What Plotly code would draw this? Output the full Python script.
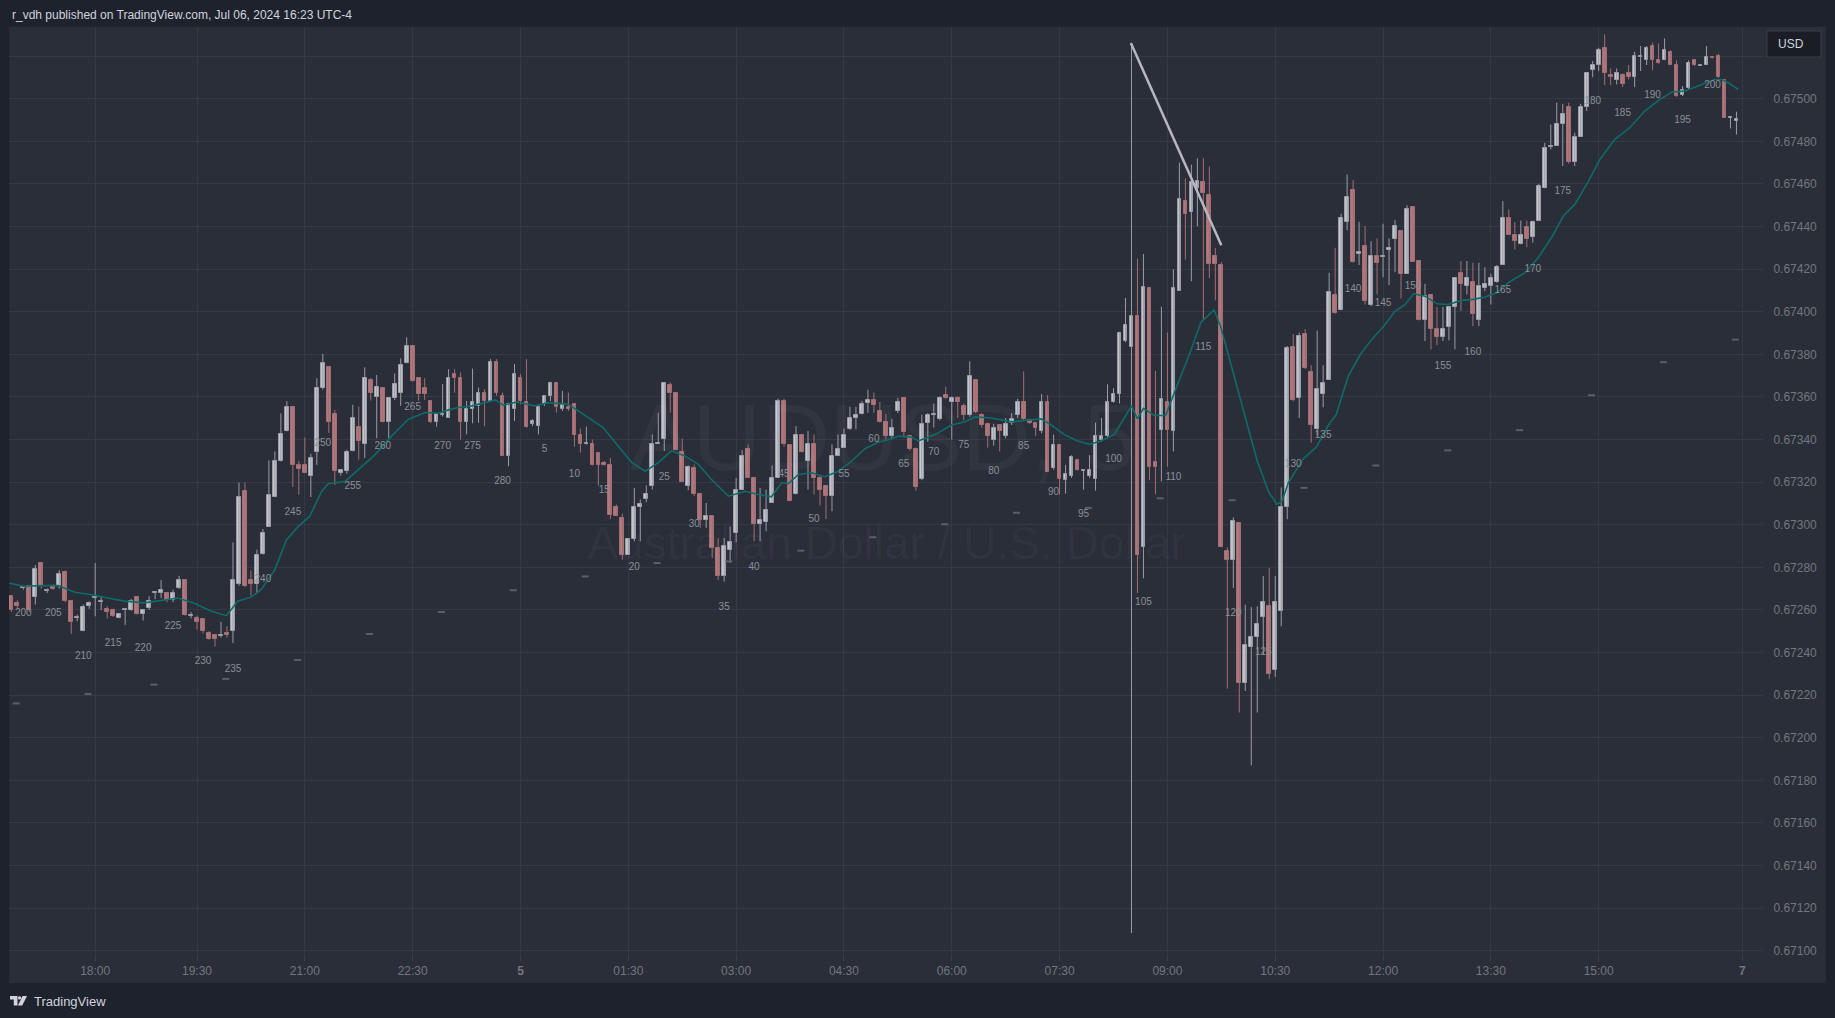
import plotly.graph_objects as go

# ---------------- data (AUDUSD 5-minute bars) ----------------
bar_index = list(range(-14, 275))

bar_open = [
 0.672664, 0.672633, 0.672703, 0.672710, 0.672660, 0.672820, 0.672690, 0.672710, 0.672710, 0.672780,
 0.672644, 0.672563, 0.672500, 0.672620, 0.672660, 0.672640, 0.672602, 0.672600, 0.672564, 0.672600,
 0.672600, 0.672660, 0.672580, 0.672608, 0.672680, 0.672680, 0.672680, 0.672645, 0.672703, 0.672740,
 0.672573, 0.672560, 0.672555, 0.672492, 0.672484, 0.672477, 0.672492, 0.672500, 0.672723, 0.673160,
 0.672739, 0.672723, 0.672864, 0.672989, 0.673130, 0.673300, 0.673440, 0.673552, 0.673281, 0.673280,
 0.673230, 0.673339, 0.673640, 0.673740, 0.673519, 0.673245, 0.673250, 0.673348, 0.673458, 0.673380,
 0.673680, 0.673598, 0.673640, 0.673480, 0.673597, 0.673617, 0.673758, 0.673840, 0.673688, 0.673640,
 0.673580, 0.673480, 0.673516, 0.673503, 0.673707, 0.673691, 0.673482, 0.673542, 0.673558, 0.673620,
 0.673581, 0.673762, 0.673602, 0.673322, 0.673542, 0.673691, 0.673576, 0.673474, 0.673463, 0.673565,
 0.673602, 0.673663, 0.673542, 0.673554, 0.673565, 0.673423, 0.673380, 0.673380, 0.673335, 0.673290,
 0.673281, 0.673084, 0.673032, 0.672859, 0.672933, 0.673082, 0.673121, 0.673181, 0.673380, 0.673404,
 0.673655, 0.673620, 0.673343, 0.673184, 0.673267, 0.673142, 0.673024, 0.673043, 0.672890, 0.672760,
 0.672883, 0.672961, 0.673165, 0.673354, 0.673220, 0.673005, 0.673011, 0.673102, 0.673220, 0.673581,
 0.673372, 0.673142, 0.673419, 0.673299, 0.673380, 0.673220, 0.673181, 0.673137, 0.673322, 0.673361,
 0.673448, 0.673503, 0.673522, 0.673573, 0.673584, 0.673534, 0.673482, 0.673416, 0.673535, 0.673596,
 0.673416, 0.673355, 0.673213, 0.673479, 0.673517, 0.673497, 0.673607, 0.673578, 0.673596, 0.673558,
 0.673517, 0.673681, 0.673517, 0.673474, 0.673400, 0.673468, 0.673416, 0.673479, 0.673517, 0.673578,
 0.673490, 0.673479, 0.673438, 0.673578, 0.673265, 0.673376, 0.673209, 0.673227, 0.673306, 0.673254,
 0.673227, 0.673213, 0.673396, 0.673416, 0.673578, 0.673614, 0.673861, 0.673834, 0.673978, 0.672894,
 0.674109, 0.673294, 0.673445, 0.673578, 0.673438, 0.674098, 0.674518, 0.674469, 0.674581, 0.674608,
 0.674548, 0.674260, 0.674221, 0.672878, 0.672833, 0.673007, 0.672257, 0.672426, 0.672471, 0.672568,
 0.672617, 0.672320, 0.672595, 0.673081, 0.673834, 0.673596, 0.673895, 0.673715, 0.673450, 0.673614,
 0.673679, 0.674078, 0.674006, 0.674421, 0.674571, 0.674269, 0.674308, 0.674031, 0.674261, 0.674261,
 0.674288, 0.674339, 0.674378, 0.674178, 0.674491, 0.674238, 0.673959, 0.674078, 0.673917, 0.673881,
 0.673928, 0.674022, 0.674180, 0.674120, 0.674139, 0.673961, 0.674112, 0.674120, 0.674141, 0.674219,
 0.674438, 0.674360, 0.674319, 0.674400, 0.674350, 0.674428, 0.674579, 0.674777, 0.674777, 0.674879,
 0.674961, 0.674704, 0.674820, 0.674961, 0.675137, 0.675158, 0.675236, 0.675111, 0.675087, 0.675111,
 0.675119, 0.675101, 0.675200, 0.675181, 0.675247, 0.675181, 0.675181, 0.675220, 0.675158, 0.675017,
 0.675051, 0.675180, 0.675158, 0.675158, 0.675197, 0.675200, 0.675087, 0.674910, 0.674900,
]

bar_high = [
 0.672670, 0.672645, 0.672710, 0.672715, 0.672810, 0.672823, 0.672700, 0.672720, 0.672786, 0.672785,
 0.672646, 0.672578, 0.672625, 0.672640, 0.672820, 0.672664, 0.672617, 0.672605, 0.672586, 0.672605,
 0.672652, 0.672665, 0.672602, 0.672664, 0.672680, 0.672740, 0.672680, 0.672695, 0.672760, 0.672745,
 0.672590, 0.672573, 0.672558, 0.672500, 0.672484, 0.672544, 0.672523, 0.672917, 0.673198, 0.673198,
 0.672784, 0.672883, 0.672980, 0.673302, 0.673344, 0.673523, 0.673580, 0.673552, 0.673300, 0.673410,
 0.673333, 0.673688, 0.673802, 0.673740, 0.673539, 0.673258, 0.673352, 0.673563, 0.673555, 0.673739,
 0.673688, 0.673703, 0.673640, 0.673597, 0.673710, 0.673781, 0.673880, 0.673840, 0.673688, 0.673688,
 0.673580, 0.673519, 0.673660, 0.673730, 0.673730, 0.673715, 0.673581, 0.673733, 0.673644, 0.673636,
 0.673777, 0.673777, 0.673620, 0.673573, 0.673754, 0.673707, 0.673777, 0.673495, 0.673565, 0.673605,
 0.673671, 0.673663, 0.673628, 0.673620, 0.673565, 0.673451, 0.673460, 0.673400, 0.673338, 0.673299,
 0.673314, 0.673095, 0.673052, 0.672936, 0.673173, 0.673118, 0.673184, 0.673424, 0.673526, 0.673663,
 0.673668, 0.673620, 0.673404, 0.673278, 0.673283, 0.673150, 0.673102, 0.673043, 0.672938, 0.672938,
 0.672992, 0.673220, 0.673350, 0.673377, 0.673220, 0.673173, 0.673165, 0.673278, 0.673592, 0.673592,
 0.673372, 0.673463, 0.673424, 0.673440, 0.673424, 0.673228, 0.673184, 0.673377, 0.673424, 0.673451,
 0.673554, 0.673554, 0.673581, 0.673633, 0.673620, 0.673576, 0.673520, 0.673497, 0.673596, 0.673596,
 0.673423, 0.673362, 0.673517, 0.673524, 0.673569, 0.673603, 0.673648, 0.673603, 0.673603, 0.673569,
 0.673767, 0.673681, 0.673524, 0.673479, 0.673474, 0.673472, 0.673501, 0.673524, 0.673591, 0.673720,
 0.673497, 0.673483, 0.673614, 0.673609, 0.673423, 0.673376, 0.673281, 0.673326, 0.673310, 0.673258,
 0.673326, 0.673479, 0.673501, 0.673659, 0.673641, 0.673906, 0.674064, 0.675261, 0.674248, 0.674271,
 0.674109, 0.673722, 0.674023, 0.673902, 0.674199, 0.674700, 0.674626, 0.674690, 0.674720, 0.674720,
 0.674682, 0.674300, 0.674233, 0.672894, 0.673034, 0.673007, 0.672624, 0.672613, 0.672617, 0.672759,
 0.672797, 0.672759, 0.673175, 0.673839, 0.673895, 0.673902, 0.673918, 0.673749, 0.673911, 0.673749,
 0.674183, 0.674300, 0.674460, 0.674644, 0.674618, 0.674422, 0.674402, 0.674331, 0.674344, 0.674413,
 0.674344, 0.674430, 0.674378, 0.674500, 0.674491, 0.674238, 0.674131, 0.674078, 0.674022, 0.674022,
 0.674022, 0.674156, 0.674238, 0.674238, 0.674230, 0.674230, 0.674209, 0.674178, 0.674219, 0.674519,
 0.674480, 0.674421, 0.674428, 0.674428, 0.674428, 0.674601, 0.674793, 0.674879, 0.674981, 0.674976,
 0.674981, 0.674840, 0.674976, 0.675119, 0.675177, 0.675239, 0.675302, 0.675142, 0.675142, 0.675119,
 0.675158, 0.675220, 0.675247, 0.675247, 0.675263, 0.675259, 0.675283, 0.675227, 0.675180, 0.675059,
 0.675180, 0.675180, 0.675160, 0.675247, 0.675197, 0.675211, 0.675087, 0.674910, 0.674939,
]

bar_low = [
 0.672590, 0.672605, 0.672695, 0.672590, 0.672625, 0.672700, 0.672680, 0.672695, 0.672700, 0.672636,
 0.672488, 0.672547, 0.672500, 0.672605, 0.672570, 0.672600, 0.672558, 0.672567, 0.672561, 0.672530,
 0.672595, 0.672578, 0.672550, 0.672600, 0.672650, 0.672656, 0.672636, 0.672636, 0.672698, 0.672573,
 0.672560, 0.672508, 0.672490, 0.672460, 0.672427, 0.672470, 0.672470, 0.672445, 0.672713, 0.672707,
 0.672667, 0.672680, 0.672860, 0.672989, 0.673130, 0.673297, 0.673438, 0.673177, 0.673140, 0.673242,
 0.673130, 0.673281, 0.673634, 0.673430, 0.673186, 0.673230, 0.673240, 0.673344, 0.673305, 0.673313,
 0.673583, 0.673406, 0.673480, 0.673406, 0.673586, 0.673558, 0.673758, 0.673672, 0.673583, 0.673586,
 0.673477, 0.673460, 0.673508, 0.673503, 0.673620, 0.673400, 0.673424, 0.673476, 0.673479, 0.673463,
 0.673581, 0.673605, 0.673322, 0.673275, 0.673487, 0.673565, 0.673456, 0.673463, 0.673424, 0.673558,
 0.673581, 0.673526, 0.673534, 0.673534, 0.673366, 0.673338, 0.673377, 0.673278, 0.673184, 0.673278,
 0.673027, 0.673040, 0.672835, 0.672859, 0.672922, 0.672922, 0.673105, 0.673165, 0.673380, 0.673346,
 0.673526, 0.673350, 0.673200, 0.673162, 0.673134, 0.672985, 0.672985, 0.672843, 0.672741, 0.672733,
 0.672820, 0.672917, 0.673165, 0.673220, 0.672922, 0.672922, 0.672969, 0.673102, 0.673220, 0.673366,
 0.673110, 0.673142, 0.673338, 0.673165, 0.673142, 0.673090, 0.673027, 0.673063, 0.673322, 0.673361,
 0.673445, 0.673448, 0.673518, 0.673526, 0.673526, 0.673479, 0.673400, 0.673407, 0.673524, 0.673411,
 0.673348, 0.673160, 0.673209, 0.673389, 0.673456, 0.673490, 0.673591, 0.673400, 0.673501, 0.673490,
 0.673506, 0.673524, 0.673456, 0.673362, 0.673371, 0.673344, 0.673405, 0.673468, 0.673501, 0.673490,
 0.673474, 0.673416, 0.673429, 0.673249, 0.673258, 0.673142, 0.673146, 0.673220, 0.673254, 0.673164,
 0.673220, 0.673160, 0.673389, 0.673411, 0.673573, 0.673569, 0.673857, 0.671083, 0.672680, 0.672748,
 0.673209, 0.673142, 0.673204, 0.673272, 0.673344, 0.674098, 0.674244, 0.674143, 0.674401, 0.673963,
 0.674158, 0.674053, 0.672894, 0.672230, 0.672703, 0.672118, 0.672219, 0.671870, 0.672118, 0.672388,
 0.672275, 0.672286, 0.672523, 0.673025, 0.673580, 0.673501, 0.673731, 0.673384, 0.673416, 0.673551,
 0.673679, 0.673990, 0.674006, 0.674382, 0.674230, 0.674219, 0.674034, 0.674026, 0.674081, 0.674162,
 0.674125, 0.674186, 0.674062, 0.674178, 0.674234, 0.673959, 0.673862, 0.673823, 0.673843, 0.673862,
 0.673865, 0.673823, 0.674003, 0.674081, 0.673932, 0.673932, 0.674097, 0.674034, 0.674136, 0.674219,
 0.674360, 0.674292, 0.674316, 0.674303, 0.674324, 0.674428, 0.674579, 0.674762, 0.674777, 0.674684,
 0.674695, 0.674684, 0.674820, 0.674942, 0.675101, 0.675130, 0.675064, 0.675064, 0.675067, 0.675054,
 0.675090, 0.675054, 0.675130, 0.675158, 0.675133, 0.675164, 0.675181, 0.675158, 0.675009, 0.675012,
 0.675043, 0.675153, 0.675156, 0.675158, 0.675189, 0.675098, 0.674910, 0.674860, 0.674832,
]

bar_close = [
 0.672598, 0.672620, 0.672703, 0.672600, 0.672790, 0.672710, 0.672690, 0.672700, 0.672770, 0.672640,
 0.672542, 0.672563, 0.672614, 0.672634, 0.672660, 0.672640, 0.672590, 0.672570, 0.672583, 0.672600,
 0.672644, 0.672581, 0.672600, 0.672644, 0.672680, 0.672693, 0.672645, 0.672680, 0.672742, 0.672578,
 0.672573, 0.672542, 0.672500, 0.672464, 0.672464, 0.672484, 0.672483, 0.672739, 0.673130, 0.672713,
 0.672723, 0.672860, 0.672961, 0.673139, 0.673297, 0.673427, 0.673552, 0.673281, 0.673260, 0.673242,
 0.673313, 0.673640, 0.673758, 0.673480, 0.673250, 0.673255, 0.673340, 0.673500, 0.673391, 0.673688,
 0.673617, 0.673648, 0.673480, 0.673597, 0.673660, 0.673750, 0.673840, 0.673675, 0.673614, 0.673614,
 0.673480, 0.673519, 0.673516, 0.673691, 0.673691, 0.673482, 0.673542, 0.673576, 0.673620, 0.673581,
 0.673762, 0.673620, 0.673322, 0.673565, 0.673707, 0.673581, 0.673460, 0.673485, 0.673554, 0.673602,
 0.673663, 0.673554, 0.673565, 0.673542, 0.673419, 0.673377, 0.673380, 0.673278, 0.673278, 0.673278,
 0.673047, 0.673040, 0.672859, 0.672933, 0.673084, 0.673095, 0.673142, 0.673380, 0.673380, 0.673663,
 0.673620, 0.673350, 0.673200, 0.673272, 0.673142, 0.673024, 0.673043, 0.672890, 0.672760, 0.672898,
 0.672917, 0.673162, 0.673322, 0.673220, 0.673005, 0.673024, 0.673068, 0.673220, 0.673581, 0.673377,
 0.673110, 0.673419, 0.673341, 0.673380, 0.673220, 0.673162, 0.673137, 0.673322, 0.673354, 0.673423,
 0.673503, 0.673514, 0.673565, 0.673584, 0.673562, 0.673484, 0.673418, 0.673456, 0.673578, 0.673434,
 0.673355, 0.673175, 0.673474, 0.673517, 0.673517, 0.673596, 0.673596, 0.673596, 0.673578, 0.673517,
 0.673699, 0.673531, 0.673468, 0.673416, 0.673456, 0.673438, 0.673474, 0.673497, 0.673578, 0.673497,
 0.673479, 0.673456, 0.673578, 0.673249, 0.673376, 0.673213, 0.673238, 0.673317, 0.673258, 0.673254,
 0.673258, 0.673416, 0.673416, 0.673578, 0.673614, 0.673900, 0.673938, 0.673978, 0.672856, 0.674116,
 0.673272, 0.673272, 0.673589, 0.673445, 0.674109, 0.674529, 0.674458, 0.674608, 0.674615, 0.674559,
 0.674226, 0.674226, 0.672894, 0.672833, 0.673018, 0.672257, 0.672433, 0.672473, 0.672534, 0.672635,
 0.672298, 0.672635, 0.673081, 0.673828, 0.673587, 0.673888, 0.673738, 0.673468, 0.673638, 0.673663,
 0.674092, 0.673995, 0.674438, 0.674538, 0.674234, 0.674280, 0.674050, 0.674261, 0.674228, 0.674261,
 0.674300, 0.674402, 0.674178, 0.674483, 0.674234, 0.673959, 0.674073, 0.673917, 0.673881, 0.673917,
 0.674022, 0.674156, 0.674128, 0.674156, 0.673987, 0.674120, 0.674128, 0.674159, 0.674209, 0.674438,
 0.674360, 0.674331, 0.674360, 0.674339, 0.674421, 0.674590, 0.674767, 0.674777, 0.674879, 0.674926,
 0.674704, 0.674820, 0.674961, 0.675119, 0.675158, 0.675228, 0.675119, 0.675101, 0.675119, 0.675067,
 0.675101, 0.675200, 0.675200, 0.675236, 0.675181, 0.675169, 0.675227, 0.675158, 0.675012, 0.675039,
 0.675169, 0.675158, 0.675158, 0.675197, 0.675189, 0.675101, 0.674910, 0.674910, 0.674900,
]

# moving average line (teal), read at sample points
ema_x = [-14.5, -12, -9, -6.2, -3.4, -0.1, 2.1, 4.9, 8.2, 11.0,
         13.8, 16.6, 19.4, 21.9, 23.8, 26.1, 27.7, 30.0, 31.9, 33.9,
         35.8, 37.8, 38.9, 41.7, 43.9, 46.7, 49.5, 52.3, 55.1, 57.3,
         59.0, 60.6, 62.9, 66.8, 68.1, 70.4, 73.4, 75.7, 79.0, 81.8,
         84.8, 87.3, 89.6, 91.8, 94.0, 96.2, 98.5, 100.7, 102.9, 105.7,
         108.5, 110.7, 112.9, 114.6, 115.7, 117.4, 119.6, 121.8, 124.1, 126.3,
         128.5, 130.8, 132.7, 134.1, 136.3, 137.4, 140.2, 143.0, 145.2, 146.9,
         149.6, 153.0, 155.7, 157.9, 159.6, 161.8, 164.0, 166.0, 167.9, 170.1,
         171.8, 173.0, 174.0, 175.0, 176.8, 178.7, 180.7, 182.6, 184.6, 186.8,
         187.9, 189.8, 191.8, 194.0, 195.9, 197.3, 198.1, 199.2, 201.7, 203.9,
         205.9, 207.2, 209.2, 211.2, 213.1, 215.1, 217.0, 218.7, 220.1, 222.0,
         224.0, 225.9, 228.1, 230.1, 232.0, 234.0, 235.9, 238.7, 240.9, 243.1,
         245.1, 247.1, 249.3, 251.2, 253.7, 256.3, 258.7, 261.0, 263.2, 265.4,
         267.6, 270.4, 271.5, 272.6, 274.3]
ema_y = [0.672727, 0.672711, 0.672714, 0.672714, 0.672683, 0.672669, 0.672656, 0.672641, 0.672633, 0.672645,
         0.672656, 0.672630, 0.672594, 0.672573, 0.672641, 0.672661, 0.672695, 0.672789, 0.672927, 0.672992,
         0.673039, 0.673156, 0.673192, 0.673203, 0.673258, 0.673328, 0.673417, 0.673495, 0.673527, 0.673523,
         0.673539, 0.673550, 0.673558, 0.673586, 0.673561, 0.673576, 0.673558, 0.673573, 0.673565, 0.673511,
         0.673456, 0.673369, 0.673291, 0.673251, 0.673291, 0.673346, 0.673322, 0.673283, 0.673212, 0.673134,
         0.673157, 0.673142, 0.673131, 0.673197, 0.673193, 0.673236, 0.673244, 0.673225, 0.673251, 0.673299,
         0.673357, 0.673388, 0.673401, 0.673416, 0.673411, 0.673393, 0.673423, 0.673468, 0.673483, 0.673506,
         0.673501, 0.673483, 0.673490, 0.673497, 0.673468, 0.673423, 0.673393, 0.673378, 0.673393, 0.673423,
         0.673501, 0.673558, 0.673497, 0.673546, 0.673513, 0.673513, 0.673659, 0.673794, 0.673951, 0.674008,
         0.673929, 0.673738, 0.673524, 0.673299, 0.673153, 0.673096, 0.673108, 0.673198, 0.673310, 0.673366,
         0.673468, 0.673518, 0.673698, 0.673799, 0.673870, 0.673932, 0.674003, 0.674034, 0.674084, 0.674073,
         0.674037, 0.674034, 0.674053, 0.674058, 0.674069, 0.674089, 0.674136, 0.674183, 0.674253, 0.674347,
         0.674449, 0.674507, 0.674613, 0.674715, 0.674809, 0.674867, 0.674942, 0.674992, 0.675031, 0.675036,
         0.675059, 0.675090, 0.675090, 0.675075, 0.675044]

# hourly marks (small grey dashes)
htf_x = [-13.2, -1.2, 9.8, 21.8, 33.8, 45.8, 57.8, 69.8, 81.8, 93.8, 105.8, 117.8, 129.8,
         141.8, 153.8, 165.8, 177.8, 189.8, 201.8, 213.8, 225.8, 237.8, 249.8, 261.8, 273.8]
htf_y = [0.672161, 0.672205, 0.672249, 0.672276, 0.672365, 0.672487, 0.672590, 0.672692, 0.672757,
         0.672820, 0.672828, 0.672878, 0.672941, 0.673002, 0.673056, 0.673079, 0.673124, 0.673115,
         0.673173, 0.673278, 0.673349, 0.673444, 0.673608, 0.673763, 0.673869]

# bar-count labels
count_text = ["200", "205", "210", "215", "220", "225", "230", "235", "240", "245", "250", "255",
              "260", "265", "270", "275", "280",
              "5", "10", "15", "20", "25", "30", "35", "40", "45", "50",
              "55", "60", "65", "70", "75", "80", "85", "90", "95", "100",
              "105", "110", "115", "120", "125", "130", "135", "140", "145", "150",
              "155", "160", "165", "170", "175", "180", "185", "190", "195", "200"]
count_x = [-12, -7, -2, 3, 8, 13, 18, 23, 28, 33, 38, 43, 48, 53, 58, 63, 68,
           75, 80, 85, 90, 95, 100, 105, 110, 115, 120,
           125, 130, 135, 140, 145, 150, 155, 160, 165, 170,
           175, 180, 185, 190, 195, 200, 205, 210, 215, 220,
           225, 230, 235, 240, 245, 250, 255, 260, 265, 270]
count_y = [0.672585, 0.672585, 0.672381, 0.672441, 0.672420, 0.672524, 0.672359, 0.672321, 0.672744,
           0.673057, 0.673381, 0.673178, 0.673365, 0.673551, 0.673365, 0.673365, 0.673205,
           0.673354, 0.673238, 0.673161, 0.672799, 0.673222, 0.673002, 0.672612, 0.672799, 0.673238, 0.673024,
           0.673238, 0.673398, 0.673282, 0.673337, 0.673370, 0.673249, 0.673365, 0.673150, 0.673046, 0.673304,
           0.672634, 0.673222, 0.673831, 0.672585, 0.672398, 0.673282, 0.673420, 0.674106, 0.674040, 0.674117,
           0.673744, 0.673809, 0.674101, 0.674200, 0.674562, 0.674986, 0.674931, 0.675013, 0.674898, 0.675062]

# drawn trend line (bar index, price)
trend_x = [172.9, 188.0]
trend_y = [0.675261, 0.674312]

# axis ticks
time_tickvals = [0, 17, 35, 53, 71, 89, 107, 125, 143, 161, 179, 197, 215, 233, 251, 275]
time_ticktext = ["18:00", "19:30", "21:00", "22:30", "<b>5</b>", "01:30", "03:00", "04:30", "06:00",
                 "07:30", "09:00", "10:30", "12:00", "13:30", "15:00", "<b>7</b>"]
price_tickvals = [0.6710, 0.6712, 0.6714, 0.6716, 0.6718, 0.6720, 0.6722, 0.6724, 0.6726, 0.6728,
                  0.6730, 0.6732, 0.6734, 0.6736, 0.6738, 0.6740, 0.6742, 0.6744, 0.6746, 0.6748,
                  0.6750, 0.6752]
price_ticktext = ["0.67100", "0.67120", "0.67140", "0.67160", "0.67180", "0.67200", "0.67220",
                  "0.67240", "0.67260", "0.67280", "0.67300", "0.67320", "0.67340", "0.67360",
                  "0.67380", "0.67400", "0.67420", "0.67440", "0.67460", "0.67480", "0.67500", ""]

# ---------------- styling / layout ----------------
W, H = 1835, 1018
PX_L, PX_R, PX_T, PX_B = 9, 1763, 27, 955
X_RANGE = [-14.39, 278.43]
Y_RANGE = [0.6709798, 0.6753366]
FONT = "Liberation Sans, Arial, sans-serif"
GRID = "#353945"
TICK = "#73767f"
UP_FILL, UP_LINE = "#c4c6ce", "#9a9da6"
DN_FILL, DN_LINE = "#b07a7e", "#a36e73"


def px(x):
    return (x - PX_L) / (PX_R - PX_L)


def py(y):
    return (PX_B - y) / (PX_B - PX_T)


n = min(len(bar_index), len(bar_open), len(bar_high), len(bar_low), len(bar_close))
up = [i for i in range(n) if bar_close[i] >= bar_open[i]]
dn = [i for i in range(n) if bar_close[i] < bar_open[i]]
MIN_BODY = 0.000005

fig = go.Figure()

# watermark (behind everything)
fig.add_trace(go.Scatter(x=[131.5], y=[0.673370], mode="text", text=["AUDUSD, 5"],
                         textfont=dict(size=95, color="rgba(255,255,255,0.035)", family=FONT),
                         hoverinfo="skip", showlegend=False))
fig.add_trace(go.Scatter(x=[132.1], y=[0.672891], mode="text", text=["Australian Dollar / U.S. Dollar"],
                         textfont=dict(size=46, color="rgba(255,255,255,0.035)", family=FONT),
                         hoverinfo="skip", showlegend=False))

# wicks
for idx, col in ((up, UP_LINE), (dn, DN_LINE)):
    xs, ys = [], []
    for i in idx:
        xs += [bar_index[i], bar_index[i], None]
        ys += [bar_low[i], bar_high[i], None]
    fig.add_trace(go.Scatter(x=xs, y=ys, mode="lines", line=dict(color=col, width=1),
                             hoverinfo="skip", showlegend=False))

# bodies
for idx, fill, line in ((up, UP_FILL, UP_LINE), (dn, DN_FILL, DN_LINE)):
    base, hgt = [], []
    for i in idx:
        lo, hi = min(bar_open[i], bar_close[i]), max(bar_open[i], bar_close[i])
        if hi - lo < MIN_BODY:
            mid = (hi + lo) / 2
            lo, hi = mid - MIN_BODY / 2, mid + MIN_BODY / 2
        base.append(lo)
        hgt.append(hi - lo)
    fig.add_trace(go.Bar(x=[bar_index[i] for i in idx], y=hgt, base=base, width=0.62,
                         marker=dict(color=fill, line=dict(color=line, width=1)),
                         hoverinfo="skip", showlegend=False))

# moving average
fig.add_trace(go.Scatter(x=ema_x, y=ema_y, mode="lines", line=dict(color="#0f6b6a", width=1.6),
                         hoverinfo="skip", showlegend=False))

# hourly dashes
fig.add_trace(go.Scatter(x=htf_x, y=htf_y, mode="markers",
                         marker=dict(symbol="line-ew", size=5, line=dict(color="#5c5f69", width=2)),
                         hoverinfo="skip", showlegend=False))

# bar count labels
fig.add_trace(go.Scatter(x=count_x, y=count_y, mode="text", text=count_text,
                         textfont=dict(size=10, color="#8c8f98", family=FONT),
                         hoverinfo="skip", showlegend=False))

# TradingView logo polygon (pixel coordinates of the footer mark)
logo_parts = [
    [(10, 996), (17.5, 996), (17.5, 1005.5), (13.8, 1005.5), (13.8, 999.6), (10, 999.6)],
    [(22.6, 996), (27, 996), (22.2, 1005.5), (17.9, 1005.5)],
]
shapes = [
    dict(type="rect", xref="paper", yref="paper", x0=px(9.3), x1=px(1825.7), y0=py(983), y1=py(26.7),
         fillcolor="#2a2e39", line=dict(width=0), layer="below"),
    dict(type="rect", xref="paper", yref="paper", x0=px(1767), x1=px(1821), y0=py(57), y1=py(31),
         fillcolor="#1a1d26", line=dict(color="#3a3e4a", width=1)),
    dict(type="line", xref="x", yref="y", x0=trend_x[0], y0=trend_y[0], x1=trend_x[1], y1=trend_y[1],
         line=dict(color="#b5b8c0", width=2.5)),
    dict(type="circle", xref="paper", yref="paper", x0=px(17.9), x1=px(21.3), y0=py(999.6), y1=py(996.2),
         fillcolor="#d1d4dc", line=dict(width=0)),
]
for part in logo_parts:
    path = "M " + " L ".join(f"{px(a):.6f},{py(b):.6f}" for a, b in part) + " Z"
    shapes.append(dict(type="path", xref="paper", yref="paper", path=path,
                       fillcolor="#d1d4dc", line=dict(width=0)))

annotations = [
    dict(xref="paper", yref="paper", x=px(10), y=py(14.5), xanchor="left", yanchor="middle",
         text="r_vdh published on TradingView.com, Jul 06, 2024 16:23 UTC-4", showarrow=False,
         font=dict(size=12, color="#d1d4dc", family=FONT)),
    dict(xref="paper", yref="paper", x=px(32), y=py(1001.5), xanchor="left", yanchor="middle",
         text="TradingView", showarrow=False, font=dict(size=13, color="#d1d4dc", family=FONT)),
    dict(xref="paper", yref="paper", x=px(1776), y=py(44), xanchor="left", yanchor="middle",
         text="USD", showarrow=False, font=dict(size=12, color="#d1d4dc", family=FONT)),
]

fig.update_layout(
    width=W, height=H,
    margin=dict(l=PX_L, r=W - PX_R, t=PX_T, b=H - PX_B, pad=0),
    paper_bgcolor="#1e222d", plot_bgcolor="rgba(0,0,0,0)",
    barmode="overlay", bargap=0, showlegend=False,
    font=dict(family=FONT),
    xaxis=dict(range=X_RANGE, tickmode="array", tickvals=time_tickvals, ticktext=time_ticktext,
               showgrid=True, gridcolor=GRID, gridwidth=1, zeroline=False, showline=False,
               ticks="outside", ticklen=5, tickcolor="#3c404c",
               tickfont=dict(size=12, color=TICK, family=FONT), fixedrange=True),
    yaxis=dict(range=Y_RANGE, side="right", tickmode="array", tickvals=price_tickvals,
               ticktext=price_ticktext, showgrid=True, gridcolor=GRID, gridwidth=1,
               zeroline=False, showline=False, ticks="outside", ticklen=7,
               tickcolor="rgba(0,0,0,0)", tickfont=dict(size=12, color=TICK, family=FONT),
               fixedrange=True),
    shapes=shapes,
    annotations=annotations,
)

fig.write_html(
    "out.html",
    config={"displayModeBar": False},
    post_script="document.body.style.margin='0';document.body.style.overflow='hidden';"
                "document.body.style.background='#1e222d';",
)
